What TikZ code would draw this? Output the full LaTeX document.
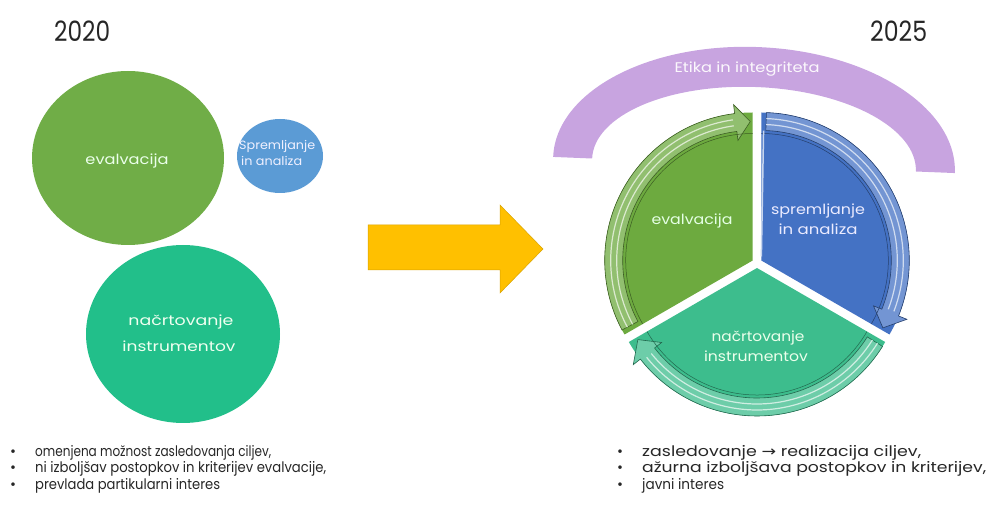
\documentclass[tikz,border=0pt]{standalone}
\usepackage{fontspec}
\setmainfont{Poppins}
\newfontfamily\symfont{DejaVu Sans}
\usepackage{graphicx}
\usetikzlibrary{shapes.geometric}
\newcommand{\fitw}[2]{\resizebox{#1}{\height}{#2}}
\definecolor{txt}{HTML}{262626}
\definecolor{cgreen}{HTML}{70AD47}
\definecolor{cblue}{HTML}{5B9BD5}
\definecolor{cteal}{HTML}{22BF8A}
\definecolor{rgreen}{HTML}{6DAA3F}
\definecolor{rblue}{HTML}{4472C4}
\definecolor{rteal}{HTML}{3DBD8D}
\definecolor{purp}{HTML}{C8A4E0}
\definecolor{yel}{HTML}{FFC000}
\begin{document}
\begin{tikzpicture}[x=1pt,y=1pt,
  lbl/.style={inner sep=0, text height=8pt, text depth=2pt, font=\fontsize{14}{16}\selectfont},
  bul/.style={anchor=base west, inner sep=0, text=txt, font=\fontsize{14.5}{17}\selectfont},
  year/.style={anchor=base west, inner sep=0, text=txt, font=\fontsize{28}{30}\selectfont},
  bubble/.style={ellipse, inner sep=0},
  band/.style={line width=0.6pt},
  stripe/.style={line width=1.2pt}]
\useasboundingbox (0,0) rectangle (991,506);

% ---------- 2020 ----------
\node[year] (y20) at (54,464) {\fitw{56pt}{2020}};
\node[bubble, fill=cgreen, minimum width=192, minimum height=174] (ev20) at (128,348) {};
\node[bubble, fill=cblue, minimum width=86, minimum height=74] (sp20) at (280,350) {};
\node[bubble, fill=cteal, minimum width=194, minimum height=178] (na20) at (183,172) {};
\node[lbl, text=green!8!white] (ev20t) at (127,344) {\fitw{83pt}{evalvacija}};
\node[lbl, anchor=west, text=blue!6!white, font=\fontsize{12}{14}\selectfont] (sp20a) at (239,359) {\fitw{76pt}{Spremljanje}};
\node[lbl, anchor=west, text=blue!6!white, font=\fontsize{12}{14}\selectfont] (sp20b) at (241,343) {\fitw{61pt}{in analiza}};
\node[lbl, text=green!6!white] (na20a) at (181,183) {\fitw{105pt}{načrtovanje}};
\node[lbl, text=green!6!white] (na20b) at (179,157) {\fitw{113pt}{instrumentov}};

% ---------- arrow ----------
\fill[yel, draw=yel!85!black, line width=0.5pt] (368,281) -- (500,281) -- (500,301) -- (543,257) -- (500,213) -- (500,236) -- (368,236) -- cycle;

% ---------- 2025 ----------
\node[year] (y25) at (870,464) {\fitw{57pt}{2025}};
\begin{scope}[rotate around={-2.3:(754,341)}]
\fill[purp] (553,341) arc[start angle=180,end angle=0,x radius=201,y radius=118] -- (916,341) arc[start angle=0,end angle=180,x radius=162,y radius=78] -- cycle;
\end{scope}
\node[lbl, text=white!92!purp] (etika) at (747,436) {\fitw{145pt}{Etika in integriteta}};

% green sector
\begin{scope}[shift={(752.7,245.5)}]
\fill[rgreen] (0,0) -- (90:148) arc[start angle=90,end angle=210,radius=148] -- cycle;
\filldraw[band, fill=rgreen!75!white, draw=rgreen!55!black] (208:148) arc[start angle=208,end angle=97,radius=148] -- (97:157) -- (91:139) -- (97:121) -- (97:130) arc[start angle=97,end angle=208,radius=130] -- cycle;
\draw[stripe, rgreen!25!white] (208:136) arc[start angle=208,end angle=98,radius=136];
\draw[stripe, rgreen!25!white] (208:142) arc[start angle=208,end angle=98,radius=142];
\draw[rgreen!55!black, line width=0.5pt] (90:127) arc[start angle=90,end angle=210,radius=127];
\end{scope}
% blue sector
\begin{scope}[shift={(761.3,245.5)}]
\fill[rblue] (0,0) -- (-30:148) arc[start angle=-30,end angle=90,radius=148] -- cycle;
\filldraw[band, fill=rblue!75!white, draw=rblue!55!black] (88:148) arc[start angle=88,end angle=-22,radius=148] -- (-22:157) -- (-29:139) -- (-22:121) -- (-22:130) arc[start angle=-22,end angle=88,radius=130] -- cycle;
\draw[stripe, rblue!25!white] (88:136) arc[start angle=88,end angle=-21,radius=136];
\draw[stripe, rblue!25!white] (88:142) arc[start angle=88,end angle=-21,radius=142];
\draw[rblue!55!black, line width=0.5pt] (-30:127) arc[start angle=-30,end angle=90,radius=127];
\draw[rblue!30!white, line width=1.5pt] (89:4) -- (89:130);
\end{scope}
% teal sector
\begin{scope}[shift={(757,238)}]
\fill[rteal] (0,0) -- (210:148) arc[start angle=210,end angle=330,radius=148] -- cycle;
\filldraw[band, fill=rteal!75!white, draw=rteal!55!black] (328:148) arc[start angle=328,end angle=218,radius=148] -- (218:157) -- (211:139) -- (218:121) -- (218:130) arc[start angle=218,end angle=328,radius=130] -- cycle;
\draw[stripe, rteal!25!white] (328:136) arc[start angle=328,end angle=219,radius=136];
\draw[stripe, rteal!25!white] (328:142) arc[start angle=328,end angle=219,radius=142];
\draw[rteal!55!black, line width=0.5pt] (210:127) arc[start angle=210,end angle=330,radius=127];
\end{scope}

\node[lbl, text=green!10!white] (ev25) at (692,284) {\fitw{81pt}{evalvacija}};
\node[lbl, text=blue!8!white] (sp25a) at (818,294) {\fitw{94pt}{spremljanje}};
\node[lbl, text=blue!8!white] (sp25b) at (818,274) {\fitw{79pt}{in analiza}};
\node[lbl, text=green!8!white] (na25a) at (758,167) {\fitw{93pt}{načrtovanje}};
\node[lbl, text=green!8!white] (na25b) at (756,147) {\fitw{104pt}{instrumentov}};

% ---------- bullets ----------
\node[bul] (lb1d) at (10,49) {•};
\node[bul] (lb2d) at (10,33) {•};
\node[bul] (lb3d) at (10,16) {•};
\node[bul] (lb1) at (35,49) {\fitw{236pt}{omenjena možnost zasledovanja ciljev,}};
\node[bul] (lb2) at (35,33) {\fitw{291pt}{ni izboljšav postopkov in kriterijev evalvacije,}};
\node[bul] (lb3) at (35,16) {\fitw{185pt}{prevlada partikularni interes}};

\node[bul] (rb1d) at (617,49) {•};
\node[bul] (rb2d) at (617,33) {•};
\node[bul] (rb3d) at (617,16) {•};
\node[bul] (rb1) at (642,49) {\fitw{279pt}{zasledovanje {\symfont →} realizacija ciljev,}};
\node[bul] (rb2) at (642,33) {\fitw{344pt}{ažurna izboljšava postopkov in kriterijev,}};
\node[bul] (rb3) at (642,16) {\fitw{82pt}{javni interes}};
\end{tikzpicture}
\end{document}
